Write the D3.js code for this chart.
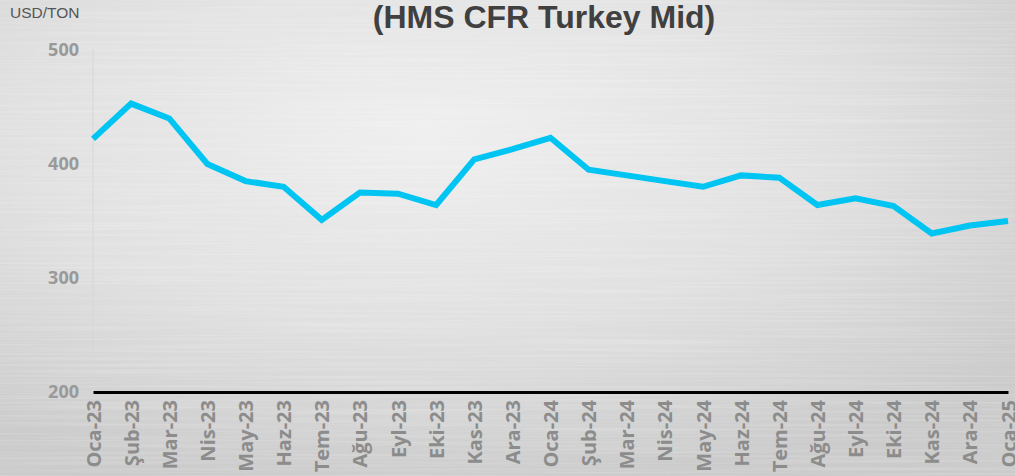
<!DOCTYPE html>
<html>
<head>
<meta charset="utf-8">
<script src="https://cdn.jsdelivr.net/npm/d3@7"></script>
<style>
  html, body { margin: 0; padding: 0; background: #e4e4e4; }
  svg { display: block; }
</style>
</head>
<body>
<div id="chart"></div>
<script>
// months on the x axis
const months = ["Oca-23", "Şub-23", "Mar-23", "Nis-23", "May-23", "Haz-23", "Tem-23", "Ağu-23",
    "Eyl-23", "Eki-23", "Kas-23", "Ara-23", "Oca-24", "Şub-24", "Mar-24", "Nis-24", "May-24",
    "Haz-24", "Tem-24", "Ağu-24", "Eyl-24", "Eki-24", "Kas-24", "Ara-24", "Oca-25"];
// HMS CFR Turkey mid, USD/ton
const prices = [422, 453, 440, 400, 385, 380, 351, 375, 374, 364, 404, 413, 423,
    395, 390, 385, 380, 390, 388, 364, 370, 363, 339, 346, 350];
const yTicks = [200, 300, 400, 500];

let w = 1015, h = 476;
let margin = {top: 50, right: 7, bottom: 84, left: 93};

let svg = d3.select("#chart").append("svg")
    .attr("width", w)
    .attr("height", h);

// brushed metal background
let defs = svg.append("defs");
let grad = defs.append("radialGradient")
    .attr("id", "bg")
    .attr("cx", "42%").attr("cy", "28%").attr("r", "75%");
grad.append("stop").attr("offset", "0%").attr("stop-color", "#efefef");
grad.append("stop").attr("offset", "55%").attr("stop-color", "#e0e0e0");
grad.append("stop").attr("offset", "100%").attr("stop-color", "#cbcbcb");

let brushed = defs.append("filter").attr("id", "brushed")
    .attr("x", 0).attr("y", 0).attr("width", "100%").attr("height", "100%");
brushed.append("feTurbulence")
    .attr("type", "fractalNoise")
    .attr("baseFrequency", "0.004 0.45")
    .attr("numOctaves", 2)
    .attr("seed", 3);
brushed.append("feColorMatrix")
    .attr("type", "matrix")
    .attr("values", "0 0 0 0 1  0 0 0 0 1  0 0 0 0 1  0 0 0 -0.9 0.55");

svg.append("rect").attr("width", w).attr("height", h).attr("fill", "url(#bg)");
svg.append("rect").attr("width", w).attr("height", h).attr("filter", "url(#brushed)").attr("opacity", 0.45);

// scales
let x = d3.scalePoint()
    .domain(months)
    .range([margin.left, w - margin.right]);

let y = d3.scaleLinear()
    .domain([200, 500])
    .range([h - margin.bottom, margin.top]);

// faint vertical axis line
svg.append("line")
    .attr("x1", margin.left).attr("x2", margin.left)
    .attr("y1", y(500)).attr("y2", y(200))
    .attr("stroke", "#d6d6d6")
    .attr("stroke-width", 1);

// y axis labels
let yAxis = svg.append("g")
    .attr("transform", `translate(${margin.left}, 0)`)
    .call(d3.axisLeft(y).tickValues(yTicks).tickSize(0).tickPadding(14).tickFormat(d3.format("d")));
yAxis.select(".domain").remove();
yAxis.selectAll("text")
    .attr("fill", "#999999")
    .attr("font-family", "'Open Sans', sans-serif")
    .attr("font-weight", "bold")
    .attr("font-size", 18);

// x axis
let xAxis = svg.append("g")
    .attr("transform", `translate(0, ${y(200)})`)
    .call(d3.axisBottom(x).tickSize(0));
xAxis.select(".domain")
    .attr("stroke", "#000")
    .attr("stroke-width", 3);
xAxis.selectAll("text")
    .attr("fill", "#8c8c8c")
    .attr("font-family", "'Open Sans', sans-serif")
    .attr("font-weight", "bold")
    .attr("font-size", 20)
    .attr("text-anchor", "end")
    .attr("transform", "rotate(-90)")
    .attr("x", -8)
    .attr("y", 0)
    .attr("dy", "0.35em");

// price line
let line = d3.line()
    .x((d, i) => x(months[i]))
    .y(d => y(d));

svg.append("path")
    .datum(prices)
    .attr("fill", "none")
    .attr("stroke", "#00c4f2")
    .attr("stroke-width", 6)
    .attr("stroke-linejoin", "miter")
    .attr("d", line);

// title and unit
svg.append("text")
    .attr("x", 544)
    .attr("y", 28)
    .attr("text-anchor", "middle")
    .attr("font-family", "'Liberation Sans', Arial, sans-serif")
    .attr("font-weight", "bold")
    .attr("font-size", 32)
    .attr("fill", "#404040")
    .text("(HMS CFR Turkey Mid)");

svg.append("text")
    .attr("x", 10)
    .attr("y", 18)
    .attr("font-family", "'Liberation Sans', Arial, sans-serif")
    .attr("font-size", 15.5)
    .attr("fill", "#555555")
    .text("USD/TON");
</script>
</body>
</html>
